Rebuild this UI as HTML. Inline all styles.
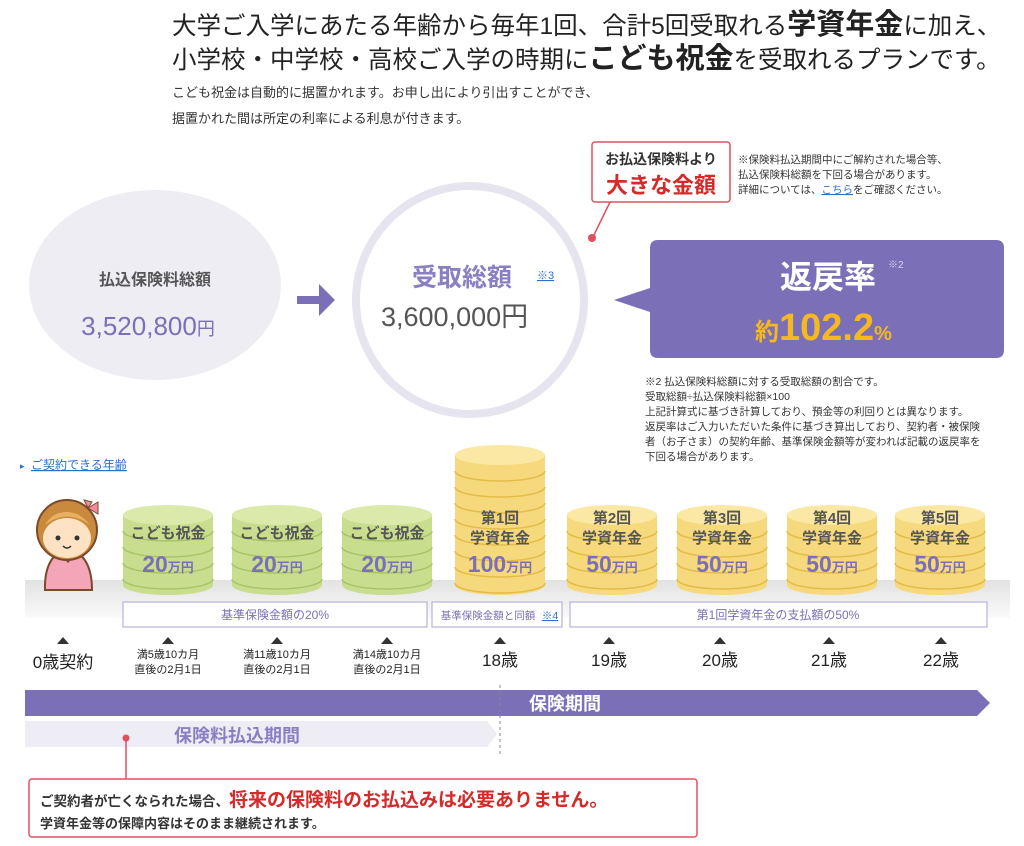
<!DOCTYPE html>
<html><head><meta charset="utf-8">
<style>
html,body{margin:0;padding:0;background:#fff;}
svg{display:block;font-family:"Liberation Sans","Noto Sans CJK JP",sans-serif;}
</style></head><body>
<svg width="1024" height="846" viewBox="0 0 1024 846" xmlns="http://www.w3.org/2000/svg">
<defs>
<linearGradient id="band" x1="0" y1="0" x2="0" y2="1"><stop offset="0" stop-color="#e2e2e2"/><stop offset="1" stop-color="#fafafa"/></linearGradient>
</defs>
<!-- Title -->
<text x="172" y="34" font-size="24.5" fill="#222">大学ご入学にあたる年齢から毎年1回、合計5回受取れる<tspan font-size="29" font-weight="bold">学資年金</tspan>に加え、</text>
<text x="172" y="68" font-size="24.5" fill="#222">小学校・中学校・高校ご入学の時期に<tspan font-size="29" font-weight="bold">こども祝金</tspan>を受取れるプランです。</text>
<text x="172" y="97" font-size="13" fill="#333">こども祝金は自動的に据置かれます。お申し出により引出すことができ、</text>
<text x="172" y="123" font-size="13" fill="#333">据置かれた間は所定の利率による利息が付きます。</text>

<!-- left ellipse -->
<ellipse cx="155" cy="285" rx="126" ry="95" fill="#eeedf4"/>
<text x="155" y="285" font-size="16" fill="#555" text-anchor="middle" font-weight="bold">払込保険料総額</text>
<text x="148" y="335" font-size="26" fill="#7b6fb5" text-anchor="middle">3,520,800<tspan font-size="18">円</tspan></text>
<!-- arrow -->
<path d="M297 296 h22 v-12 l16 16 l-16 16 v-12 h-22z" fill="#7b70b8"/>

<!-- circle -->
<circle cx="470" cy="300" r="114" fill="#fff" stroke="#e6e4ee" stroke-width="8"/>
<text x="412" y="286" font-size="25" fill="#8a7fc2" font-weight="bold">受取総額</text>
<text x="537" y="279" font-size="11" fill="#2a6fc9" text-decoration="underline">※3</text>
<text x="381" y="326" font-size="27" fill="#555">3,600,000円</text>

<!-- red callout -->
<line x1="610" y1="202" x2="593" y2="237" stroke="#e05060" stroke-width="1.5"/>
<circle cx="592" cy="238" r="4" fill="#e05060"/>
<rect x="592" y="142" width="138" height="60" rx="3" fill="#fff" stroke="#e05060" stroke-width="1.5"/>
<text x="661" y="164" font-size="14" fill="#333" font-weight="bold" text-anchor="middle">お払込保険料より</text>
<text x="661" y="193" font-size="22" fill="#d62a2a" font-weight="bold" text-anchor="middle">大きな金額</text>
<text x="738" y="163" font-size="10.5" fill="#333">※保険料払込期間中にご解約された場合等、</text>
<text x="738" y="178" font-size="10.5" fill="#333">払込保険料総額を下回る場合があります。</text>
<text x="738" y="193" font-size="10.5" fill="#333">詳細については、<tspan fill="#2a6fc9" text-decoration="underline">こちら</tspan>をご確認ください。</text>

<!-- purple box -->
<path d="M658 240 H996 Q1004 240 1004 248 V350 Q1004 358 996 358 H658 Q650 358 650 350 V312 L614 300 L650 288 V248 Q650 240 658 240z" fill="#7b70b8"/>
<text x="828" y="288" font-size="32" fill="#fff" font-weight="bold" text-anchor="middle">返戻率</text>
<text x="888" y="268" font-size="10" fill="#d8d4ee">※2</text>
<text x="755" y="340" font-size="24" fill="#f5b820" font-weight="bold">約<tspan font-size="38">102.2</tspan><tspan font-size="20">%</tspan></text>

<g font-size="10.5" fill="#333">
<text x="645" y="385">※2 払込保険料総額に対する受取総額の割合です。</text>
<text x="645" y="400">受取総額÷払込保険料総額×100</text>
<text x="645" y="415">上記計算式に基づき計算しており、預金等の利回りとは異なります。</text>
<text x="645" y="430">返戻率はご入力いただいた条件に基づき算出しており、契約者・被保険</text>
<text x="645" y="445">者（お子さま）の契約年齢、基準保険金額等が変われば記載の返戻率を</text>
<text x="645" y="460">下回る場合があります。</text>
</g>

<text x="20" y="469" font-size="9" fill="#2a6fc9">▸</text>
<text x="31" y="469" font-size="12" fill="#2a6fc9" text-decoration="underline">ご契約できる年齢</text>

<!-- band -->
<rect x="25" y="580" width="985" height="38" fill="url(#band)"/>

<!-- girl -->
<g>
<path d="M45 590 Q44 555 68 548 Q92 555 92 590z" fill="#f4a6b8" stroke="#7a4a2a" stroke-width="2"/>
<path d="M58 550 L68 562 L78 550z" fill="#fff" stroke="#7a4a2a" stroke-width="1.5"/>
<circle cx="67" cy="530" r="30" fill="#c98a3e" stroke="#7a4a2a" stroke-width="2"/>
<ellipse cx="67" cy="538" rx="24" ry="20" fill="#fde3c4"/>
<path d="M45 525 Q67 508 90 525 Q80 512 67 512 Q52 512 45 525z" fill="#e8b060"/>
<circle cx="58" cy="538" r="2.5" fill="#333"/><circle cx="77" cy="538" r="2.5" fill="#333"/>
<path d="M63 546 Q67 550 71 546" stroke="#333" stroke-width="1.5" fill="none"/>
<path d="M88 508 l10 -6 l0 12z M88 508 l-4 -8 l8 2z" fill="#f08aa0" stroke="#7a4a2a"/>
</g>

<!-- coins -->
<g id="coins">
<g id="g1">
<path d="M123 515 V585 A45 10 0 0 0 213 585 V515z" fill="#c8de8e"/>
<path d="M123 531 A45 10 0 0 0 213 531 M123 547 A45 10 0 0 0 213 547 M123 563 A45 10 0 0 0 213 563 M123 579 A45 10 0 0 0 213 579" stroke="#a8c468" fill="none" stroke-width="1.5"/>
<ellipse cx="168" cy="515" rx="45" ry="10" fill="#dbe9aa"/>
</g>
<use href="#g1" transform="translate(109,0)"/>
<use href="#g1" transform="translate(219,0)"/>
<g>
<path d="M455 455 V585 A45 10 0 0 0 545 585 V455z" fill="#f6d97c"/>
<path d="M455 471 A45 10 0 0 0 545 471 M455 487 A45 10 0 0 0 545 487 M455 503 A45 10 0 0 0 545 503 M455 519 A45 10 0 0 0 545 519 M455 535 A45 10 0 0 0 545 535 M455 551 A45 10 0 0 0 545 551 M455 567 A45 10 0 0 0 545 567 M455 583 A45 10 0 0 0 545 583" stroke="#e3bb48" fill="none" stroke-width="1.5"/>
<ellipse cx="500" cy="455" rx="45" ry="10" fill="#fbe8a4"/>
</g>
<g id="y1" transform="translate(112,0)">
<path d="M455 515 V585 A45 10 0 0 0 545 585 V515z" fill="#f6d97c"/>
<path d="M455 531 A45 10 0 0 0 545 531 M455 547 A45 10 0 0 0 545 547 M455 563 A45 10 0 0 0 545 563 M455 579 A45 10 0 0 0 545 579" stroke="#e3bb48" fill="none" stroke-width="1.5"/>
<ellipse cx="500" cy="515" rx="45" ry="10" fill="#fbe8a4"/>
</g>
<use href="#y1" transform="translate(110,0)"/>
<use href="#y1" transform="translate(220,0)"/>
<use href="#y1" transform="translate(328,0)"/>
</g>

<g font-size="15" fill="#555" font-weight="bold" text-anchor="middle">
<text x="168" y="538">こども祝金</text>
<text x="277" y="538">こども祝金</text>
<text x="387" y="538">こども祝金</text>
<text x="500" y="523">第1回</text><text x="500" y="543">学資年金</text>
<text x="612" y="523">第2回</text><text x="612" y="543">学資年金</text>
<text x="722" y="523">第3回</text><text x="722" y="543">学資年金</text>
<text x="832" y="523">第4回</text><text x="832" y="543">学資年金</text>
<text x="940" y="523">第5回</text><text x="940" y="543">学資年金</text>
</g>
<g font-size="23" fill="#7b6fb5" font-weight="bold" text-anchor="middle">
<text x="168" y="572">20<tspan font-size="13">万円</tspan></text>
<text x="277" y="572">20<tspan font-size="13">万円</tspan></text>
<text x="387" y="572">20<tspan font-size="13">万円</tspan></text>
<text x="500" y="572">100<tspan font-size="13">万円</tspan></text>
<text x="612" y="572">50<tspan font-size="13">万円</tspan></text>
<text x="722" y="572">50<tspan font-size="13">万円</tspan></text>
<text x="832" y="572">50<tspan font-size="13">万円</tspan></text>
<text x="940" y="572">50<tspan font-size="13">万円</tspan></text>
</g>

<!-- label boxes -->
<g fill="#fff" stroke="#b8b0dc" stroke-width="1.2">
<rect x="123" y="602" width="304" height="25"/>
<rect x="432" y="602" width="130" height="25"/>
<rect x="570" y="602" width="417" height="25"/>
</g>
<g font-size="12" fill="#7b6fb5" text-anchor="middle">
<text x="275" y="619">基準保険金額の20%</text>
<text x="488" y="619" font-size="10.5">基準保険金額と同額</text>
<text x="550" y="619" font-size="10.5" fill="#2a6fc9" text-decoration="underline">※4</text>
<text x="778" y="619">第1回学資年金の支払額の50%</text>
</g>

<!-- triangles -->
<g fill="#333">
<path d="M57 644 l6 -7 l6 7z"/><path d="M162 644 l6 -7 l6 7z"/><path d="M271 644 l6 -7 l6 7z"/><path d="M381 644 l6 -7 l6 7z"/>
<path d="M494 644 l6 -7 l6 7z"/><path d="M603 644 l6 -7 l6 7z"/><path d="M714 644 l6 -7 l6 7z"/><path d="M823 644 l6 -7 l6 7z"/><path d="M935 644 l6 -7 l6 7z"/>
</g>
<g font-size="17" fill="#222" text-anchor="middle">
<text x="63" y="668">0歳契約</text>
<text x="500" y="666">18歳</text><text x="609" y="666">19歳</text><text x="720" y="666">20歳</text><text x="829" y="666">21歳</text><text x="941" y="666">22歳</text>
</g>
<g font-size="11" fill="#222" text-anchor="middle">
<text x="168" y="658">満5歳10カ月</text><text x="168" y="673">直後の2月1日</text>
<text x="277" y="658">満11歳10カ月</text><text x="277" y="673">直後の2月1日</text>
<text x="387" y="658">満14歳10カ月</text><text x="387" y="673">直後の2月1日</text>
</g>

<!-- period bars -->
<path d="M25 690 H977 L990 703 L977 716 H25z" fill="#7b70b8"/>
<text x="565" y="710" font-size="18" fill="#fff" font-weight="bold" text-anchor="middle">保険期間</text>
<path d="M25 721 H487 L497 734 L487 747 H25z" fill="#eeedf6"/>
<text x="237" y="742" font-size="18" fill="#8a7fc2" font-weight="bold" text-anchor="middle">保険料払込期間</text>
<line x1="500" y1="685" x2="500" y2="756" stroke="#888" stroke-width="1" stroke-dasharray="3,3"/>

<!-- bottom callout -->
<circle cx="126" cy="738" r="3.5" fill="#e05060"/>
<line x1="126" y1="738" x2="126" y2="779" stroke="#e05060" stroke-width="1.5"/>
<rect x="29" y="779" width="668" height="58" rx="3" fill="#fff" stroke="#e05060" stroke-width="1.5"/>
<text x="40" y="806" font-size="13.5" fill="#333" font-weight="bold">ご契約者が亡くなられた場合、<tspan font-size="19" fill="#d62a2a">将来の保険料のお払込みは必要ありません。</tspan></text>
<text x="40" y="828" font-size="13" fill="#333" font-weight="bold">学資年金等の保障内容はそのまま継続されます。</text>
</svg>
</body></html>
